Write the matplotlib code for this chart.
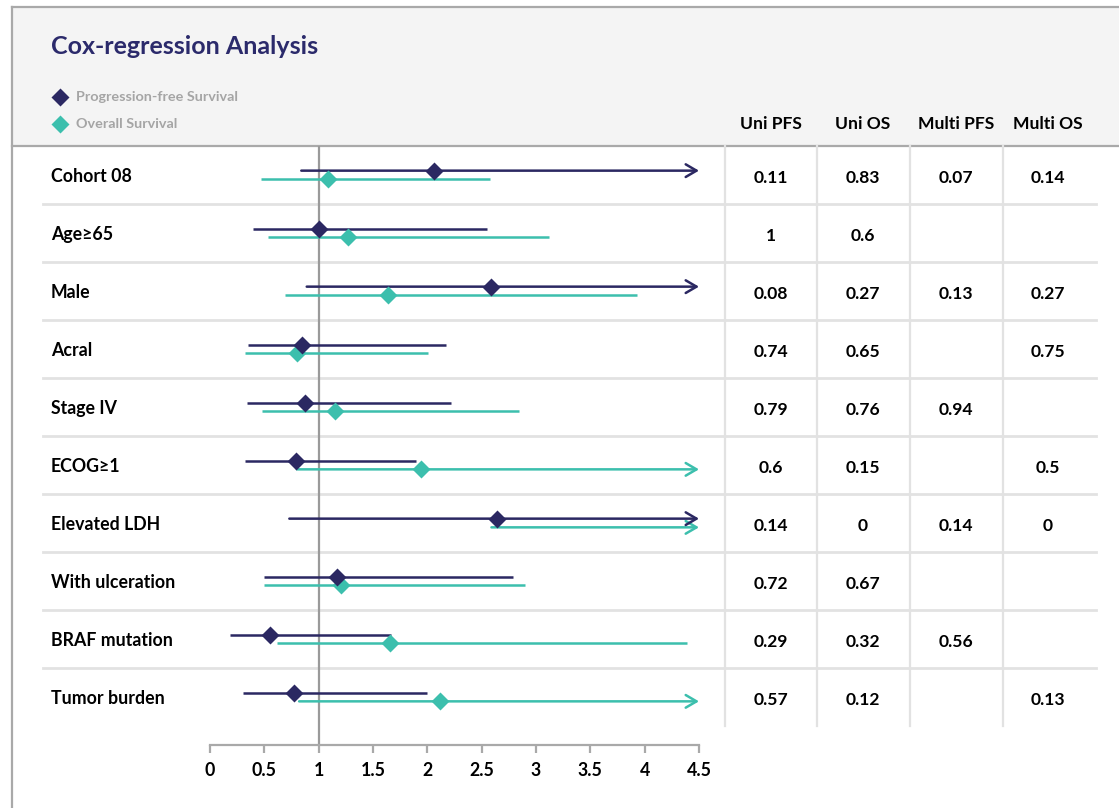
import matplotlib
matplotlib.use("Agg")
import matplotlib.pyplot as plt
import matplotlib.transforms as mtransforms
from matplotlib.patches import Rectangle
import numpy as np

plt.rcParams['font.family'] = ['Lato', 'DejaVu Sans']

title = "Cox-regression Analysis"
series_names = ["Progression-free Survival", "Overall Survival"]
factors = ["Cohort 08", "Age\u226565", "Male", "Acral", "Stage IV", "ECOG\u22651",
           "Elevated LDH", "With ulceration", "BRAF mutation", "Tumor burden"]

# hazard ratios with 95% CI; inf = upper bound runs off the scale
inf = np.inf
pfs_est = [2.06, 1.00, 2.59, 0.85, 0.87, 0.79, 2.64, 1.17, 0.55, 0.77]
pfs_lo = [0.84, 0.40, 0.89, 0.35, 0.34, 0.32, 0.73, 0.50, 0.18, 0.30]
pfs_hi = [inf, 2.55, inf, 2.17, 2.22, 1.90, inf, 2.79, 1.67, 2.00]
os_est = [1.09, 1.27, 1.64, 0.80, 1.15, 1.94, np.nan, 1.21, 1.66, 2.12]
os_lo = [0.47, 0.53, 0.69, 0.32, 0.48, 0.80, 2.59, 0.50, 0.62, 0.82]
os_hi = [2.58, 3.12, 3.93, 2.01, 2.84, inf, inf, 2.90, 4.39, inf]

# p-values table
col_names = ["Uni PFS", "Uni OS", "Multi PFS", "Multi OS"]
uni_pfs = ["0.11", "1", "0.08", "0.74", "0.79", "0.6", "0.14", "0.72", "0.29", "0.57"]
uni_os = ["0.83", "0.6", "0.27", "0.65", "0.76", "0.15", "0", "0.67", "0.32", "0.12"]
multi_pfs = ["0.07", "", "0.13", "", "0.94", "", "0.14", "", "0.56", ""]
multi_os = ["0.14", "", "0.27", "0.75", "", "0.5", "0", "", "", "0.13"]

x_ticks = [0, 0.5, 1, 1.5, 2, 2.5, 3, 3.5, 4, 4.5]

NAVY = "#2b2862"
TEAL = "#3cbfad"
FRAME = "#a9a9a9"
GRID = "#e2e2e2"

W, H = 1119, 808
fig = plt.figure(figsize=(W / 100, H / 100), dpi=100)
fig.patch.set_facecolor("white")

# background axes in pixel units for the panel frame / header
bg = fig.add_axes([0, 0, 1, 1])
bg.set_xlim(0, W)
bg.set_ylim(H, 0)
bg.axis("off")

# forest plot axes
x0, x1, y0, y1 = 210, 699, 146, 745
ax = fig.add_axes([x0 / W, (H - y1) / H, (x1 - x0) / W, (y1 - y0) / H])
ax.set_facecolor("none")
n = len(factors)
row_h = 58
ax.set_xlim(0, 4.5)
ax.set_ylim((y1 - 175) / row_h, -0.5)

px_row = mtransforms.blended_transform_factory(bg.transData, ax.transData)

# header panel
bg.add_patch(Rectangle((12, 7), W - 12, 139, facecolor="#f4f4f4", edgecolor="none", zorder=0))
bg.plot([12, W], [7, 7], color=FRAME, lw=1.6, zorder=1)
bg.plot([12, W], [146, 146], color=FRAME, lw=1.6, zorder=1)
bg.plot([12, 12], [7, H], color=FRAME, lw=1.6, zorder=1)

bg.text(51, 47, title, fontsize=18, fontweight="bold", color="#2b2a6b", va="center")
for k, (name, c) in enumerate(zip(series_names, [NAVY, TEAL])):
    yy = 97 + 27 * k
    bg.plot(60, yy, marker="D", ms=9.5, color=c, mec="none")
    bg.text(76, yy, name, fontsize=10.4, fontweight="bold", color="#a5a5a5", va="center")

# table header
col_x = [771, 863, 956, 1048]
for cx, name in zip(col_x, col_names):
    bg.text(cx, 124, name, fontsize=12.6, fontweight="bold", ha="center", va="center")

# row separators and table grid
for i in range(n - 1):
    bg.plot([43, 1096], [i + 0.5, i + 0.5], color=GRID, lw=2, transform=px_row, zorder=1)
for vx in [725, 817, 910, 1003]:
    bg.plot([vx, vx], [-0.5, n - 0.5], color=GRID, lw=1.6, transform=px_row, zorder=1)

# row labels and p-values
for i, name in enumerate(factors):
    bg.text(51, i + 0.02, name, fontsize=12.8, fontweight="bold", va="center", transform=px_row)
    for cx, col in zip(col_x, [uni_pfs, uni_os, multi_pfs, multi_os]):
        if col[i]:
            bg.text(cx, i + 0.06, col[i], fontsize=12.6, fontweight="bold",
                    ha="center", va="center", transform=px_row)

# reference line at HR = 1
ax.axvline(1, color="#9a9a9a", lw=1.6, zorder=1)

xmax = ax.get_xlim()[1]
arrow = "->,head_length=0.65,head_width=0.38"
series = [(os_est, os_lo, os_hi, TEAL, 0.075), (pfs_est, pfs_lo, pfs_hi, NAVY, -0.075)]
for est, lo, hi, c, dy in series:
    for i in range(n):
        y = i + dy
        if np.isfinite(hi[i]) and hi[i] <= xmax:
            ax.plot([lo[i], hi[i]], [y, y], color=c, lw=1.8, solid_capstyle="butt", zorder=2)
        else:
            ax.annotate("", xy=(xmax, y), xytext=(lo[i], y), annotation_clip=False,
                        arrowprops=dict(arrowstyle=arrow, color=c, lw=1.8,
                                        shrinkA=0, shrinkB=0, mutation_scale=12),
                        zorder=2)
        if np.isfinite(est[i]):
            ax.plot(est[i], y, marker="D", ms=9.5, color=c, mec="none", zorder=3, clip_on=False)

# x axis
for s in ["top", "right", "left"]:
    ax.spines[s].set_visible(False)
ax.spines["bottom"].set_color(FRAME)
ax.spines["bottom"].set_linewidth(1.6)
ax.set_yticks([])
ax.set_xticks(x_ticks)
ax.set_xticklabels([f"{t:g}" for t in x_ticks])
ax.tick_params(axis="x", length=6, width=1.6, color=FRAME, pad=6)
for lab in ax.get_xticklabels():
    lab.set_fontsize(12.8)
    lab.set_fontweight("bold")

fig.savefig("out.png", dpi=100)
